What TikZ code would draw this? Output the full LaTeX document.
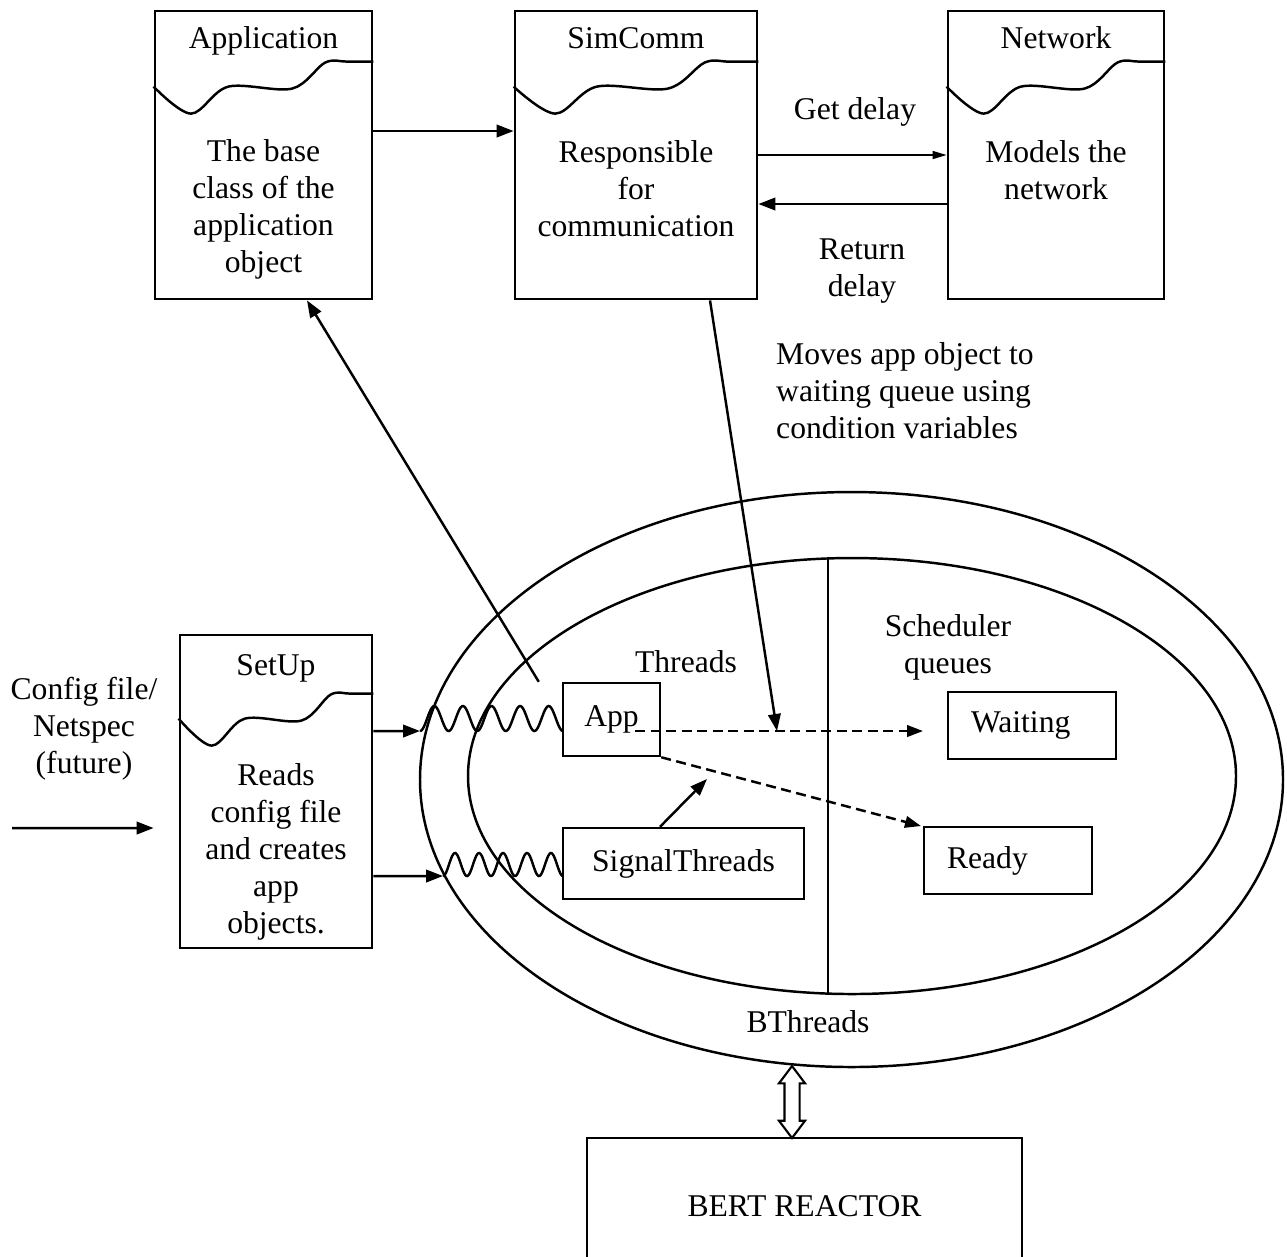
\documentclass[tikz,border=0pt]{standalone}
\usepackage{fontspec}
\setmainfont{Liberation Serif}
\usepackage{tikz}
\usetikzlibrary{positioning,arrows.meta,calc,shapes.geometric,shapes.arrows}
\newcommand{\docwave}[2]{%
  \draw plot[smooth, tension=0.55] coordinates {
    ($(#1.north west)+(0,#2)$)
    ($(#1.north west)!0.17!(#1.north east)+(0,#2+27)$)
    ($(#1.north west)!0.34!(#1.north east)+(0,#2)$)
    ($(#1.north west)!0.63!(#1.north east)+(0,#2+2)$)
    ($(#1.north west)!0.78!(#1.north east)+(0,#2-24)$)
    ($(#1.north west)!0.88!(#1.north east)+(0,#2-25)$)
    ($(#1.north east)+(0,#2-25)$)};}

\begin{document}
\begin{tikzpicture}[x=0.1mm, y=-0.1mm,
  font=\fontsize{9pt}{10.5pt}\selectfont, line width=0.7pt,
  docbox/.style={draw, line width=0.8pt, minimum height=28.8mm, inner sep=0pt},
  thrbox/.style={draw, inner sep=0pt},
  qbox/.style={draw, align=left, text width=12.2mm, inner xsep=2.3mm,
               minimum height=6.7mm},
  ring/.style={draw, ellipse, inner sep=0pt},
  lbl/.style={align=center, inner sep=0pt},
  ttl/.style={inner sep=0pt, anchor=base},
  arr/.style={-{Triangle[length=1.7mm, width=1.25mm]}},
  qline/.style={dash pattern=on 1mm off 0.55mm,
                -{Triangle[length=1.6mm, width=1.15mm]}}]

\useasboundingbox (0,0) rectangle (1287,1256);
\clip (0,0) rectangle (1287,1256);

\node[docbox, minimum width=21.7mm] (application) at (263.5,155) {};
\node[docbox, minimum width=24.2mm] (simcomm) at (636,155) {};
\node[docbox, minimum width=21.6mm] (network) at (1056,155) {};
\node[docbox, minimum width=19.2mm, minimum height=31.3mm] (setup) at (276,791.5) {};

\node[ttl] (apptitle) at ([yshift=-3.9mm]application.north) {Application};
\node[lbl] (apptext) at ([yshift=-20mm]application.north) {The base\\class of the\\application\\object};
\node[ttl] (simtitle) at ([yshift=-3.9mm]simcomm.north) {SimComm};
\node[lbl] (simtext) at ([yshift=-17.9mm]simcomm.north) {Responsible\\for\\communication};
\node[ttl] (nettitle) at ([yshift=-3.9mm]network.north) {Network};
\node[lbl] (nettext) at ([yshift=-16.1mm]network.north) {Models the\\network};
\node[ttl] (setuptitle) at ([yshift=-4.2mm]setup.north) {SetUp};
\node[lbl] (setuptext) at ([yshift=-21.8mm]setup.north) {Reads\\config file\\and creates\\app\\objects.};

\docwave{application}{77}
\docwave{simcomm}{77}
\docwave{network}{77}
\docwave{setup}{85}

\node[ring, minimum width=86.3mm, minimum height=57.5mm] (bthreads) at (851.5,779.5) {};
\node[ring, minimum width=76.8mm, minimum height=43.6mm] (threads) at (852,776) {};
\draw ([xshift=-2.4mm]threads.north) -- ([xshift=-2.4mm]threads.south);

\node[thrbox, minimum width=9.7mm, minimum height=7.3mm] (app) at (611.5,719.5) {App};
\node[thrbox, minimum width=24.1mm, minimum height=7.1mm] (signal) at (683.5,863.5) {SignalThreads};
\node[qbox] (waiting) at (1032,725.5) {Waiting};
\node[qbox] (ready) at (1008,860.5) {Ready};

\node[lbl] (threadslbl) at (686,662) {Threads};
\node[lbl] (schedlbl) at (948,647) {Scheduler\\queues};
\node[lbl] (bthreadslbl) at (808,1022) {BThreads};
\node[lbl] (cfglbl) at (84,729) {Config file/\\Netspec\\(future)};
\node[lbl] (getlbl) at (855,112) {Get delay};
\node[lbl] (retlbl) at (862,271) {Return\\delay};
\node[lbl, align=left, anchor=west] (moveslbl) at (775,391) {Moves app object to\\waiting queue using\\condition variables};

\node[draw, minimum width=43.5mm, minimum height=13.6mm] (bert) at (804.5,1206) {BERT REACTOR};
\node[draw, double arrow, rotate=90, minimum height=7.2mm, inner sep=0pt, inner ysep=0.65mm,
      double arrow head extend=0.55mm, double arrow tip angle=74, line width=0.6pt] (link) at (792,1102) {};

\coordinate (w1) at (420,731);
\coordinate (w2) at (443,876);
\coordinate (cfgin) at (12,828);
\coordinate (mv) at (777,731);
\coordinate (ds) at (635,731);
\coordinate (wq) at (923,731);
\coordinate (rq) at (921,826);
\coordinate (sg) at (707,779);

\draw[arr] ([yshift=2.4mm]application.east) -- ([yshift=2.4mm]simcomm.west);
\draw[line width=0.4pt, -{Triangle[length=1.4mm, width=0.8mm]}] (simcomm.east) -- (network.west);
\draw[arr] ([yshift=-4.9mm]network.west) -- ([yshift=-4.9mm]simcomm.east);
\draw[arr] ([xshift=-2.3mm]app.north west) -- ([xshift=4.35mm]application.south);
\draw[arr] ([xshift=7.4mm]simcomm.south) -- (mv);
\draw[arr] (cfgin) -- ([xshift=-2.5mm, yshift=-3.65mm]setup.west);
\draw[arr] ([yshift=6.05mm]setup.east) -- (w1);
\draw[arr] ([yshift=-8.45mm]setup.east) -- (w2);
\draw[shift={(w1)}] plot[domain=0:143, samples=120, smooth] (\x, {12.5*cos(\x/28.6*360)-12.5});
\draw[shift={(w2)}] plot[domain=0:120, samples=120, smooth] (\x, {11.5*cos(\x/24*360)-11.5});
\draw[qline] (ds) -- (wq);
\draw[qline] (app.south east) -- (rq);
\draw[arr] ([xshift=-2.35mm]signal.north) -- (sg);
\end{tikzpicture}
\end{document}
